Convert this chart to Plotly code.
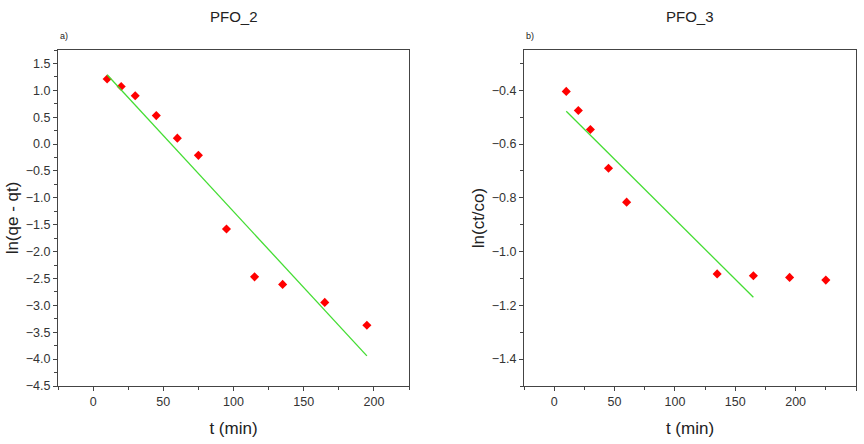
import plotly.graph_objects as go

# Panel a) PFO_2
t_a = [10, 20, 30, 45, 60, 75, 95, 115, 135, 165, 195]
y_a = [1.21, 1.07, 0.90, 0.53, 0.11, -0.21, -1.58, -2.47, -2.61, -2.945, -3.37]
fit_t_a = [10, 195]
fit_y_a = [1.29, -3.94]

# Panel b) PFO_3
t_b = [10, 20, 30, 45, 60, 135, 165, 195, 225]
y_b = [-0.404, -0.475, -0.546, -0.69, -0.816, -1.083, -1.09, -1.096, -1.106]
fit_t_b = [10, 165]
fit_y_b = [-0.478, -1.17]

titles = ["PFO_2", "PFO_3"]
panel_tags = ["a)", "b)"]
ytitles = ["ln(qe - qt)", "ln(ct/co)"]
xtitle = "t (min)"

FONT = "Liberation Sans, Arial, sans-serif"
RED = "#ff0000"
GREEN = "#44dd33"
AXC = "#444444"

fig = go.Figure()
fig.add_trace(go.Scatter(x=t_a, y=y_a, mode="markers", xaxis="x", yaxis="y",
                         marker=dict(symbol="diamond", size=7, color=RED), showlegend=False))
fig.add_trace(go.Scatter(x=fit_t_a, y=fit_y_a, mode="lines", xaxis="x", yaxis="y",
                         line=dict(color=GREEN, width=1.3), showlegend=False))
fig.add_trace(go.Scatter(x=t_b, y=y_b, mode="markers", xaxis="x2", yaxis="y2",
                         marker=dict(symbol="diamond", size=7, color=RED), showlegend=False))
fig.add_trace(go.Scatter(x=fit_t_b, y=fit_y_b, mode="lines", xaxis="x2", yaxis="y2",
                         line=dict(color=GREEN, width=1.3), showlegend=False))

W, H = 864, 444
dom_a = [58 / W, 409 / W]
dom_b = [524 / W, 856 / W]
dom_y = [1 - 386 / H, 1 - 50 / H]

common = dict(showline=True, linecolor=AXC, linewidth=1.2, mirror=True, ticks="outside",
              ticklen=4, tickwidth=1, tickcolor=AXC, showgrid=False, zeroline=False,
              automargin=False,
              tickfont=dict(family=FONT, size=12.5, color="#333333"))

fig.update_layout(
    width=W, height=H, margin=dict(l=0, r=0, t=0, b=0, autoexpand=False),
    paper_bgcolor="white", plot_bgcolor="white",
    font=dict(family=FONT, color="#222222"),
    xaxis=dict(domain=dom_a, anchor="y", range=[-25, 225], dtick=50,
               minor=dict(dtick=25, ticks="outside", ticklen=3, tickcolor=AXC),
               title=dict(text=xtitle, font=dict(size=17), standoff=14), **common),
    yaxis=dict(domain=dom_y, anchor="x", range=[-4.5, 1.75], dtick=0.5, tickformat=".1f",
               minor=dict(dtick=0.25, ticks="outside", ticklen=3, tickcolor=AXC),
               title=dict(text=ytitles[0], font=dict(size=17), standoff=2), **common),
    xaxis2=dict(domain=dom_b, anchor="y2", range=[-25, 250], dtick=50,
                minor=dict(dtick=25, ticks="outside", ticklen=3, tickcolor=AXC),
                title=dict(text=xtitle, font=dict(size=17), standoff=14), **common),
    yaxis2=dict(domain=dom_y, anchor="x2", range=[-1.5, -0.25], dtick=0.2, tick0=-0.4,
                tickformat=".1f",
                minor=dict(dtick=0.1, ticks="outside", ticklen=3, tickcolor=AXC),
                title=dict(text=ytitles[1], font=dict(size=17), standoff=2), **common),
)

centers = [(dom_a[0] + dom_a[1]) / 2, (dom_b[0] + dom_b[1]) / 2]
lefts = [dom_a[0], dom_b[0]]
for i in range(2):
    fig.add_annotation(text=titles[i], x=centers[i], y=1 - 17 / H, xref="paper", yref="paper",
                       showarrow=False, font=dict(size=15, family=FONT, color="#222222"),
                       xanchor="center", yanchor="middle")
    fig.add_annotation(text=panel_tags[i], x=lefts[i], y=1 - 36 / H, xref="paper", yref="paper",
                       showarrow=False, font=dict(size=9, family=FONT, color="#222222"),
                       xanchor="left", yanchor="middle")

fig.write_html("out.html")
